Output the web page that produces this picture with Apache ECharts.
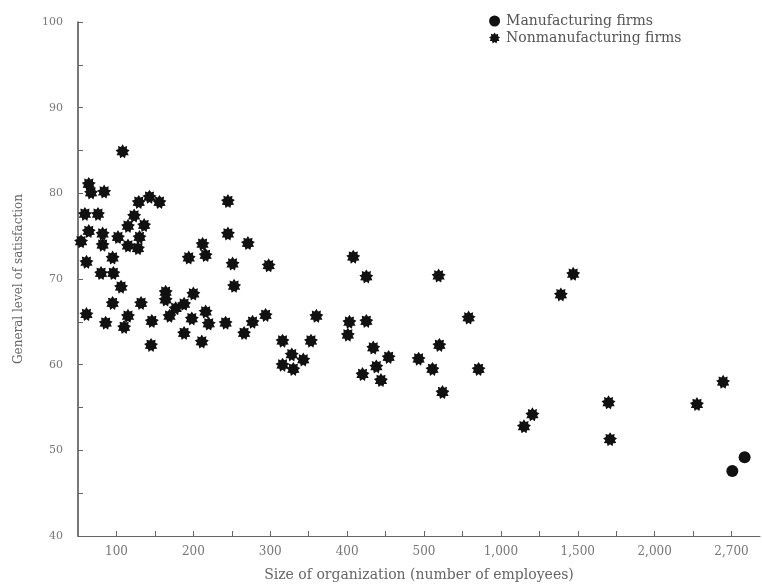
<!DOCTYPE html>
<html>
<head>
<meta charset="utf-8">
<script src="https://cdn.jsdelivr.net/npm/echarts@6/dist/echarts.min.js"></script>
<style>html,body{margin:0;padding:0;background:#fff}#c{width:762px;height:585px}</style>
</head>
<body>
<div id="c"></div>
<script>
// x positions are in tick-label units (1 = first label "100", 2 = second label, ...)
const xTickLabels = ["100","200","300","400","500","1,000","1,500","2,000","2,700"];
const yTickLabels = [40,50,60,70,80,90,100];

const manufacturingX = [9.17, 9.01];
const manufacturingY = [49.2, 47.6];

const nonmanufacturingX = [
  1.08,0.64,0.67,0.84,1.43,1.29,1.56,2.45,0.59,0.76,1.23,1.15,1.36,0.64,0.82,1.02,1.30,2.45,0.54,0.82,
  1.15,1.28,2.12,2.71,2.16,1.94,0.95,0.61,2.51,2.98,0.80,0.96,1.06,2.53,1.64,2.00,0.95,1.32,1.77,1.88,
  1.64,0.61,1.15,1.69,2.16,2.94,0.86,1.46,1.98,2.20,2.42,2.77,1.10,1.88,2.66,2.11,1.45,
  4.08,4.25,5.19,3.60,4.03,4.25,4.01,5.58,3.16,3.53,3.28,3.43,3.16,3.30,4.34,4.54,4.38,4.20,4.44,4.93,
  5.20,5.11,5.24,5.71,6.94,6.78,8.89,7.40,8.55,6.41,6.30,7.42
];
const nonmanufacturingY = [
  84.9,81.1,80.1,80.2,79.6,79.0,79.0,79.1,77.6,77.6,77.4,76.2,76.3,75.6,75.3,74.9,74.9,75.3,74.4,74.0,
  73.9,73.6,74.1,74.2,72.8,72.5,72.5,72.0,71.8,71.6,70.7,70.7,69.1,69.2,68.5,68.3,67.2,67.2,66.6,67.1,
  67.6,65.9,65.7,65.7,66.2,65.8,64.9,65.1,65.4,64.8,64.9,65.0,64.4,63.7,63.7,62.7,62.3,
  72.6,70.3,70.4,65.7,65.0,65.1,63.5,65.5,62.8,62.8,61.2,60.6,60.0,59.5,62.0,60.9,59.8,58.9,58.2,60.7,
  62.3,59.5,56.8,59.5,70.6,68.2,58.0,55.6,55.4,54.2,52.8,51.3
];

function starPath(n, rOut, rIn) {
  let d = '';
  for (let i = 0; i < n * 2; i++) {
    const r = i % 2 === 0 ? rOut : rIn;
    const a = Math.PI * i / n - Math.PI / 2;
    d += (i === 0 ? 'M' : 'L') + (r * Math.cos(a)).toFixed(2) + ',' + (r * Math.sin(a)).toFixed(2);
  }
  return 'path://' + d + 'Z';
}
const burst = starPath(9, 10, 6.8);

const chart = echarts.init(document.getElementById('c'));
const serif = '"DejaVu Serif", "Liberation Serif", serif';
chart.setOption({
  animation: false,
  backgroundColor: '#fff',
  grid: { left: 78, right: 2, top: 22, bottom: 49, containLabel: false, outerBoundsMode: 'none' },
  legend: {
    orient: 'vertical',
    left: 484,
    top: 9,
    itemWidth: 13,
    itemHeight: 11,
    itemGap: 3,
    textStyle: { fontFamily: serif, fontSize: 14, color: '#555' },
    data: ['Manufacturing firms', 'Nonmanufacturing firms']
  },
  xAxis: {
    type: 'value',
    min: 0.5,
    max: 9.37,
    interval: 0.5,
    name: 'Size of organization (number of employees)',
    nameLocation: 'middle',
    nameGap: 32,
    nameTextStyle: { fontFamily: serif, fontSize: 14, color: '#666' },
    axisLine: { show: true, lineStyle: { color: '#666', width: 1.2 } },
    axisTick: { show: true, inside: true, length: 5, lineStyle: { color: '#666' } },
    splitLine: { show: false },
    axisLabel: {
      margin: 10,
      fontFamily: serif, fontSize: 12, color: '#777',
      showMinLabel: false, showMaxLabel: false,
      formatter: v => (Math.abs(v - Math.round(v)) < 1e-6 && v >= 1 && v <= xTickLabels.length) ? xTickLabels[Math.round(v) - 1] : ''
    }
  },
  yAxis: {
    type: 'value',
    min: 40,
    max: 100,
    interval: 5,
    name: 'General level of satisfaction',
    nameLocation: 'middle',
    nameGap: 53,
    nameTextStyle: { fontFamily: serif, fontSize: 12, color: '#666' },
    axisLine: { show: true, lineStyle: { color: '#555', width: 1.6 } },
    axisTick: { show: true, inside: true, length: 5, lineStyle: { color: '#666' } },
    splitLine: { show: false },
    axisLabel: {
      margin: 15,
      fontFamily: serif, fontSize: 11, color: '#777',
      formatter: v => yTickLabels.indexOf(v) >= 0 ? String(v) : ''
    }
  },
  series: [
    {
      name: 'Manufacturing firms',
      type: 'scatter',
      symbol: 'circle',
      symbolSize: 12,
      itemStyle: { color: '#111', opacity: 1 },
      data: manufacturingX.map((x, i) => [x, manufacturingY[i]])
    },
    {
      name: 'Nonmanufacturing firms',
      type: 'scatter',
      symbol: burst,
      symbolSize: 14,
      itemStyle: { color: '#111', opacity: 1 },
      data: nonmanufacturingX.map((x, i) => [x, nonmanufacturingY[i]])
    }
  ]
});
</script>
</body>
</html>
